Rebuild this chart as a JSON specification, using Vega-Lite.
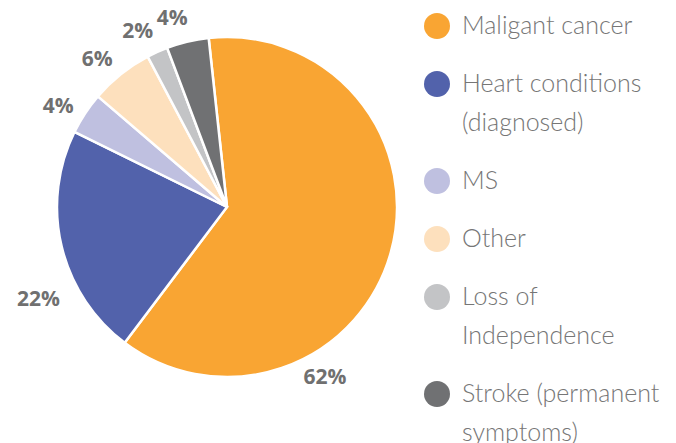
{
  "$schema": "https://vega.github.io/schema/vega-lite/v6.json",
  "width": 340,
  "height": 340,
  "autosize": "none",
  "padding": {"left": 57, "top": 37, "right": 279, "bottom": 66},
  "background": "white",
  "config": {"view": {"stroke": null}, "style": {"guide-label": {"lineHeight": 39}}},
  "data": {
    "values": [
      {"idx": 1, "cause": "Maligant cancer", "legend": "Maligant cancer", "pct": 62, "label": "62%"},
      {"idx": 2, "cause": "Heart conditions (diagnosed)", "legend": "Heart conditions|(diagnosed)", "pct": 22, "label": "22%"},
      {"idx": 3, "cause": "MS", "legend": "MS", "pct": 4, "label": "4%"},
      {"idx": 4, "cause": "Other", "legend": "Other", "pct": 6, "label": "6%"},
      {"idx": 5, "cause": "Loss of Independence", "legend": "Loss of|Independence", "pct": 2, "label": "2%"},
      {"idx": 6, "cause": "Stroke (permanent symptoms)", "legend": "Stroke (permanent|symptoms)", "pct": 4, "label": "4%"}
    ]
  },
  "encoding": {
    "theta": {"field": "pct", "type": "quantitative", "stack": true, "scale": {"range": [-0.108, 6.175]}},
    "order": {"field": "idx", "type": "quantitative"}
  },
  "layer": [
    {
      "mark": {"type": "arc", "outerRadius": 170, "stroke": "white", "strokeWidth": 2.5},
      "encoding": {
        "color": {
          "field": "legend",
          "type": "nominal",
          "sort": ["Maligant cancer", "Heart conditions|(diagnosed)", "MS", "Other", "Loss of|Independence", "Stroke (permanent|symptoms)"],
          "scale": {
            "domain": ["Maligant cancer", "Heart conditions|(diagnosed)", "MS", "Other", "Loss of|Independence", "Stroke (permanent|symptoms)"],
            "range": ["#F9A533", "#5262AB", "#BFC0E0", "#FDE0BD", "#C3C4C6", "#707173"]
          },
          "legend": {
            "title": null,
            "orient": "none",
            "legendX": 367,
            "legendY": -24,
            "padding": 0,
            "symbolType": "circle",
            "symbolSize": 676,
            "symbolStrokeWidth": 0,
            "labelFont": "Lato",
            "labelFontSize": 25,
            "labelFontWeight": 300,
            "labelColor": "#767676",
            "labelOffset": 12,
            "labelLimit": 300,
            "labelBaseline": "middle",
            "rowPadding": 32,
            "labelExpr": "split(datum.label, '|')"
          }
        }
      }
    },
    {
      "mark": {"type": "text", "radius": 197, "thetaOffset": 0.782, "font": "Open Sans", "fontWeight": "bold", "fontSize": 21, "color": "#707070"},
      "encoding": {"text": {"condition": {"test": "datum.idx == 1", "field": "label"}, "value": ""}}
    },
    {
      "mark": {"type": "text", "radius": 210, "thetaOffset": -0.223, "font": "Open Sans", "fontWeight": "bold", "fontSize": 21, "color": "#707070"},
      "encoding": {"text": {"condition": {"test": "datum.idx == 2", "field": "label"}, "value": ""}}
    },
    {
      "mark": {"type": "text", "radius": 196, "thetaOffset": -0.05, "font": "Open Sans", "fontWeight": "bold", "fontSize": 21, "color": "#707070"},
      "encoding": {"text": {"condition": {"test": "datum.idx > 2", "field": "label"}, "value": ""}}
    }
  ]
}
